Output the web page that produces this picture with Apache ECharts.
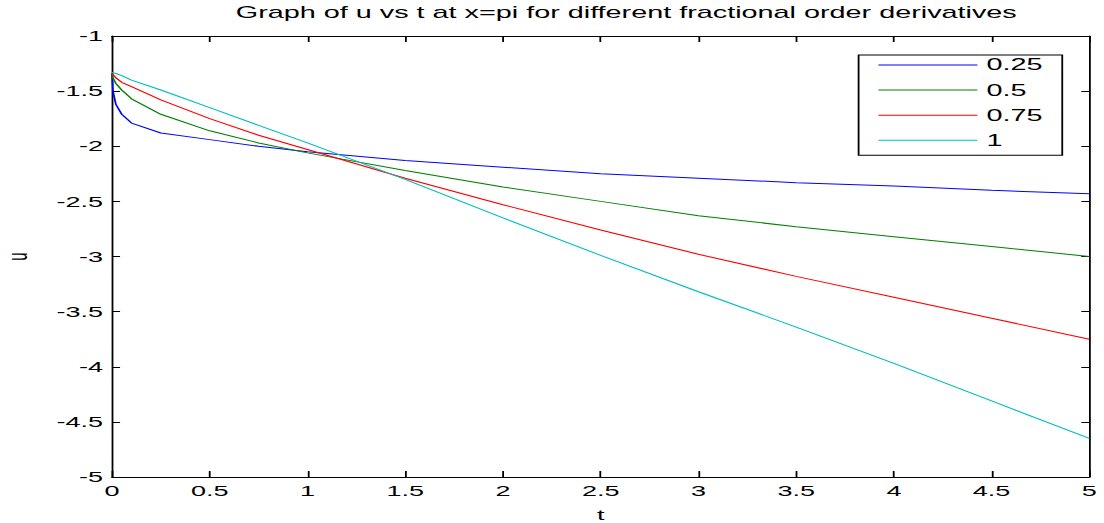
<!DOCTYPE html>
<html>
<head>
<meta charset="utf-8">
<script src="https://cdn.jsdelivr.net/npm/echarts@6/dist/echarts.min.js"></script>
<style>
  html, body { margin: 0; padding: 0; background: #fff; overflow: hidden; }
  /* the reference picture is stretched sideways, so the chart is drawn narrow and widened */
  #wrap { width: 1104px; height: 523px; overflow: hidden; }
  #main { width: 613.33px; height: 523px; transform: scaleX(1.8); transform-origin: 0 0; }
</style>
</head>
<body>
<div id="wrap"><div id="main"></div></div>
<script>
var tVals = [0, 0.005, 0.02, 0.05, 0.1, 0.25, 0.5, 0.75, 1, 1.5, 2, 2.5, 3, 3.5, 4, 4.5, 5];
var u025 = [-1.34, -1.50, -1.62, -1.71, -1.79, -1.88, -1.94, -2.00, -2.05, -2.13, -2.19, -2.25, -2.29, -2.33, -2.36, -2.40, -2.43];
var u05 = [-1.34, -1.38, -1.43, -1.49, -1.57, -1.71, -1.86, -1.97, -2.06, -2.22, -2.37, -2.50, -2.63, -2.73, -2.82, -2.91, -3.00];
var u075 = [-1.34, -1.35, -1.38, -1.42, -1.46, -1.58, -1.75, -1.90, -2.03, -2.29, -2.53, -2.76, -2.98, -3.18, -3.37, -3.56, -3.75];
var u1 = [-1.33, -1.33, -1.34, -1.36, -1.40, -1.49, -1.65, -1.81, -1.97, -2.30, -2.65, -2.99, -3.32, -3.64, -3.97, -4.31, -4.65];
var names = ['0.25', '0.5', '0.75', '1'];
var colors = ['#0000ff', '#008000', '#ff0000', '#00bfbf'];

function pairs(ys) {
    var out = [];
    for (var i = 0; i < tVals.length; i++) {
        out.push([tVals[i], ys[i]]);
    }
    return out;
}

var myChart = echarts.init(document.getElementById('main'), null, { renderer: 'svg' });
var font = 'Liberation Sans, Arial, sans-serif';

var allU = [u025, u05, u075, u1];
var series = [];
for (var k = 0; k < allU.length; k++) {
    series.push({
        name: names[k],
        type: 'line',
        data: pairs(allU[k]),
        symbol: 'none',
        xAxisIndex: 0,
        yAxisIndex: 0,
        lineStyle: { color: colors[k], width: 1 },
        itemStyle: { color: colors[k] },
        animation: false
    });
}

var option = {
    backgroundColor: '#fff',
    animation: false,
    color: colors,
    title: {
        text: 'Graph of u vs t at x=pi for different fractional order derivatives',
        left: 126,
        top: 0,
        textStyle: { fontFamily: font, fontSize: 16, fontWeight: 'normal', color: '#000' }
    },
    grid: {
        left: 62.2,
        right: 7.8,
        top: 36,
        bottom: 46,
        containLabel: false,
        outerBoundsMode: 'none'
    },
    legend: {
        orient: 'vertical',
        left: 477,
        top: 55,
        data: names,
        icon: 'rect',
        itemWidth: 55,
        itemHeight: 1,
        itemGap: 9.1,
        padding: [2, 11, 7, 11],
        borderColor: '#000',
        borderWidth: 1,
        backgroundColor: '#fff',
        textStyle: { fontFamily: font, fontSize: 16, color: '#000', lineHeight: 15.6 }
    },
    xAxis: [{
        type: 'value',
        min: 0,
        max: 5,
        interval: 0.5,
        name: 't',
        nameLocation: 'middle',
        nameGap: 30,
        nameTextStyle: { fontFamily: font, fontSize: 15, color: '#000' },
        axisLine: { show: true, onZero: false, lineStyle: { color: '#000', width: 1 } },
        axisTick: { show: true, inside: true, length: 6, lineStyle: { color: '#000' } },
        axisLabel: { fontFamily: font, fontSize: 15, color: '#000', margin: 6 },
        splitLine: { show: false }
    }, {
        type: 'value',
        position: 'top',
        min: 0,
        max: 5,
        interval: 0.5,
        axisLine: { show: true, onZero: false, lineStyle: { color: '#000', width: 1 } },
        axisTick: { show: true, inside: true, length: 6, lineStyle: { color: '#000' } },
        axisLabel: { show: false },
        splitLine: { show: false }
    }],
    yAxis: [{
        type: 'value',
        min: -5,
        max: -1,
        interval: 0.5,
        name: 'u',
        nameLocation: 'middle',
        nameGap: 45,
        nameRotate: 90,
        nameTextStyle: { fontFamily: font, fontSize: 15, color: '#000' },
        axisLine: { show: true, onZero: false, lineStyle: { color: '#000', width: 1 } },
        axisTick: { show: true, inside: true, length: 4.5, lineStyle: { color: '#000' } },
        axisLabel: { fontFamily: font, fontSize: 15, color: '#000', margin: 5 },
        splitLine: { show: false }
    }, {
        type: 'value',
        position: 'right',
        min: -5,
        max: -1,
        interval: 0.5,
        axisLine: { show: true, onZero: false, lineStyle: { color: '#000', width: 1 } },
        axisTick: { show: true, inside: true, length: 4.5, lineStyle: { color: '#000' } },
        axisLabel: { show: false },
        splitLine: { show: false }
    }],
    series: series
};

myChart.setOption(option);
</script>
</body>
</html>
